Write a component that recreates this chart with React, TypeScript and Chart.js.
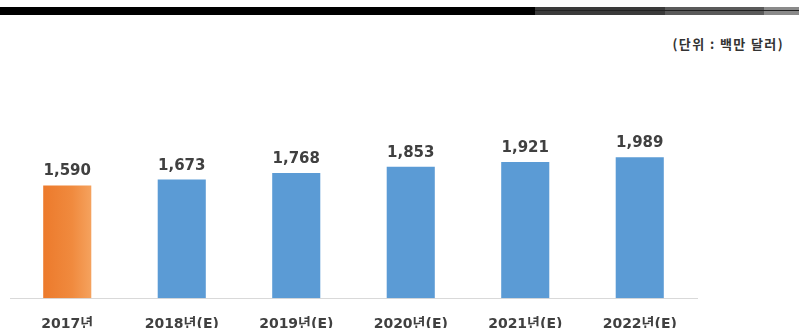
import React, { useEffect, useRef } from "react";
import { Chart, registerables } from "chart.js";

Chart.register(...registerables);

const categories = ["2017년", "2018년(E)", "2019년(E)", "2020년(E)", "2021년(E)", "2022년(E)"];
const values = [1590, 1673, 1768, 1853, 1921, 1989];
const unitLabel = "(단위 : 백만 달러)";

const valueLabelPlugin = {
  id: "valueLabels",
  afterDatasetsDraw(chart: any) {
    const ctx = chart.ctx;
    const meta = chart.getDatasetMeta(0);
    ctx.save();
    ctx.font = "bold 15px 'DejaVu Sans', 'Noto Sans CJK KR'";
    ctx.fillStyle = "#404040";
    ctx.textAlign = "center";
    ctx.textBaseline = "middle";
    meta.data.forEach((bar: any, i: number) => {
      const v = chart.data.datasets[0].data[i] as number;
      ctx.fillText(v.toLocaleString("en-US"), bar.x, bar.y - 14);
    });
    ctx.restore();
  },
};

export default function App() {
  const canvasRef = useRef<HTMLCanvasElement | null>(null);

  useEffect(() => {
    const canvas = canvasRef.current;
    if (!canvas) return;
    const chart = new Chart(canvas, {
      type: "bar",
      data: {
        labels: categories,
        datasets: [
          {
            data: values,
            backgroundColor: (c: any) => {
              if (c.dataIndex === 0) {
                const xs = c.chart.scales && c.chart.scales.x;
                if (!xs) return "#ED7D31";
                const cx = xs.getPixelForValue(0);
                const w = (xs.width / categories.length) * 0.42;
                if (!isFinite(cx) || !isFinite(w) || w <= 0) return "#ED7D31";
                const g = c.chart.ctx.createLinearGradient(cx - w / 2, 0, cx + w / 2, 0);
                g.addColorStop(0, "#EC7A2C");
                g.addColorStop(0.6, "#F08A3E");
                g.addColorStop(1, "#F5A25E");
                return g;
              }
              return "#5B9BD5";
            },
            categoryPercentage: 1,
            barPercentage: 0.42,
          },
        ],
      },
      options: {
        responsive: false,
        animation: false,
        layout: { padding: { left: 10, right: 102, top: 121, bottom: 9 } },
        plugins: { legend: { display: false }, tooltip: { enabled: false } },
        scales: {
          x: {
            grid: { display: false, drawTicks: false, tickLength: 0 },
            border: { display: true, color: "#D9D9D9", width: 1 },
            ticks: {
              padding: 18,
              color: "#404040",
              font: { family: "'DejaVu Sans', 'Noto Sans CJK KR'", size: 14, weight: "bold" },
              maxRotation: 0,
              autoSkip: false,
            },
          },
          y: { display: false, min: 0, max: 2500 },
        },
      },
      plugins: [valueLabelPlugin],
    });
    return () => chart.destroy();
  }, []);

  return (
    <div style={{ position: "fixed", left: 0, top: 0, width: 799, height: 360, background: "#fff", overflow: "hidden" }}>
      <div style={{ position: "absolute", left: 0, top: 7, width: 535, height: 8, background: "#000" }} />
      <div style={{ position: "absolute", left: 535, top: 7, width: 130, height: 8, background: "#3a3a3a" }} />
      <div style={{ position: "absolute", left: 665, top: 7, width: 99, height: 8, background: "#5a5a5a" }} />
      <div style={{ position: "absolute", left: 764, top: 7, width: 35, height: 8, background: "#8a8a8a" }} />
      <div style={{ position: "absolute", left: 535, top: 10, width: 264, height: 1, background: "#222" }} />
      <div
        style={{
          position: "absolute",
          right: 15,
          top: 34,
          fontFamily: "'Noto Sans CJK KR', 'DejaVu Sans', sans-serif",
          fontWeight: "bold",
          fontSize: 13,
          letterSpacing: "1.4px",
          color: "#333",
          whiteSpace: "nowrap",
        }}
      >
        {unitLabel}
      </div>
      <canvas ref={canvasRef} width={799} height={360} style={{ position: "absolute", left: 0, top: 0 }} />
    </div>
  );
}
